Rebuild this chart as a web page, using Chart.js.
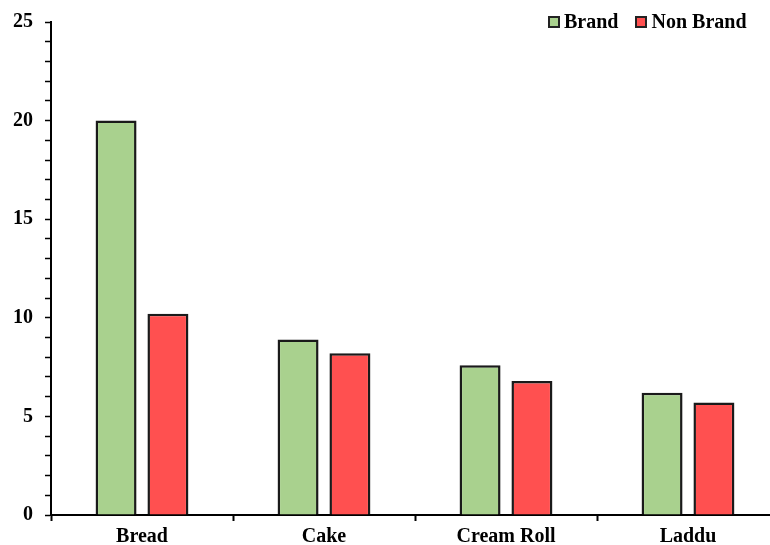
<!DOCTYPE html>
<html>
<head>
<meta charset="utf-8">
<script src="https://cdn.jsdelivr.net/npm/chart.js@4.4.1/dist/chart.umd.min.js"></script>
<style>
  html, body { margin: 0; padding: 0; background: #fff; overflow: hidden; }
  #wrap { position: relative; width: 780px; height: 545px; }
  #legend { position: absolute; top: 10px; left: 548px; display: flex; gap: 17px;
            font: bold 20px "Liberation Serif", "Times New Roman", serif; color: #000; }
  #legend span.item { display: flex; align-items: center; }
  #legend span.box { width: 8px; height: 8px; border: 2px solid #222; margin-right: 4px; }
</style>
</head>
<body>
<div id="wrap">
  <canvas id="barChart" width="780" height="545"></canvas>
  <div id="legend"></div>
</div>
<script>
const categories = ['Bread', 'Cake', 'Cream Roll', 'Laddu'];
const brandValues = [20.0, 8.9, 7.6, 6.2];
const nonBrandValues = [10.2, 8.2, 6.8, 5.7];
const seriesNames = ['Brand', 'Non Brand'];
const seriesColors = ['#a9d18e', '#ff5050'];
const yTicks = [0, 5, 10, 15, 20, 25];

const fontFamily = '"Liberation Serif", "Times New Roman", serif';

const chart = new Chart(document.getElementById('barChart').getContext('2d'), {
    type: 'bar',
    data: {
        labels: categories,
        datasets: [
            { label: seriesNames[0], data: brandValues, backgroundColor: seriesColors[0] },
            { label: seriesNames[1], data: nonBrandValues, backgroundColor: seriesColors[1] }
        ].map(ds => Object.assign(ds, {
            borderColor: '#1a1a1a',
            borderWidth: 2.5,
            barPercentage: 0.79,
            categoryPercentage: 0.57
        }))
    },
    options: {
        responsive: false,
        animation: false,
        layout: { padding: { top: 22, right: 1, left: 0, bottom: 0 } },
        plugins: {
            legend: { display: false },
            tooltip: { enabled: false }
        },
        scales: {
            x: {
                grid: {
                    offset: true,
                    drawOnChartArea: false,
                    tickLength: 6,
                    tickWidth: 2,
                    color: '#000'
                },
                border: { color: '#000', width: 2 },
                ticks: {
                    color: '#000',
                    padding: 4,
                    font: { family: fontFamily, size: 20, weight: 'bold' }
                },
                afterFit: axis => { axis.height = 30; }
            },
            y: {
                min: 0,
                max: 25,
                grid: {
                    drawOnChartArea: false,
                    tickLength: 6,
                    tickWidth: 1.5,
                    color: '#000'
                },
                border: { color: '#000', width: 2 },
                ticks: {
                    stepSize: 1,
                    autoSkip: false,
                    color: '#000',
                    padding: 12,
                    font: { family: fontFamily, size: 20, weight: 'bold' },
                    callback: v => yTicks.includes(v) ? v : ''
                },
                afterFit: axis => {
                    axis.width = 51;
                    axis.paddingTop = 0;
                    axis.paddingBottom = 0;
                }
            }
        }
    }
});

// legend in the top right corner, built from the datasets
const legendEl = document.getElementById('legend');
chart.data.datasets.forEach(ds => {
    const item = document.createElement('span');
    item.className = 'item';
    const box = document.createElement('span');
    box.className = 'box';
    box.style.background = ds.backgroundColor;
    item.appendChild(box);
    item.appendChild(document.createTextNode(ds.label));
    legendEl.appendChild(item);
});
</script>
</body>
</html>
